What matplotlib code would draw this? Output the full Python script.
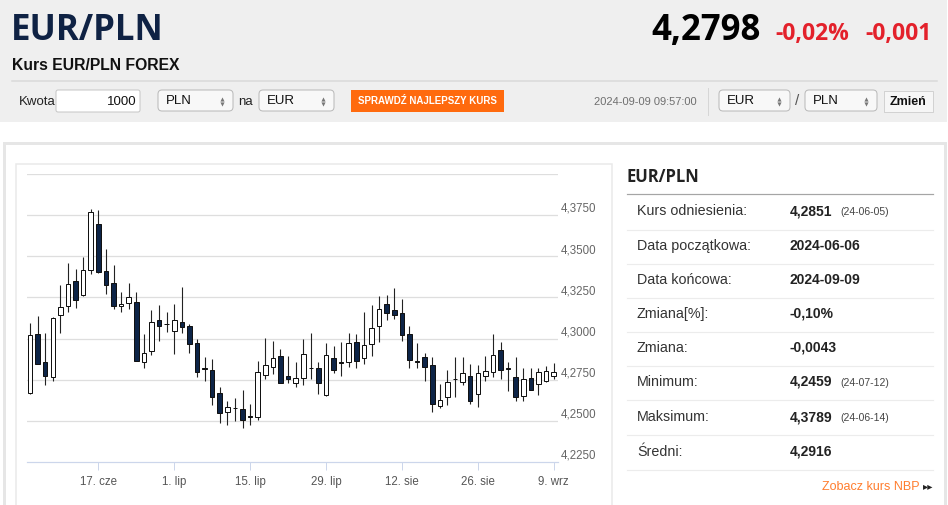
import numpy as np
import pandas as pd
import matplotlib
matplotlib.use('Agg')
import matplotlib.pyplot as plt
from matplotlib.patches import Rectangle, FancyBboxPatch

# daily candles EUR/PLN, business days from 2024-06-04 to 2024-09-09
opens = [4.2668, 4.3028, 4.2859, 4.2764, 4.3144, 4.3197, 4.3347, 4.3264, 4.3414, 4.3695,
         4.3412, 4.3339, 4.3197, 4.3217, 4.3221, 4.2859, 4.2924, 4.3114, 4.3091, 4.3048,
         4.3101, 4.3079, 4.2973, 4.2821, 4.2809, 4.2670, 4.2553, 4.2581, 4.2571, 4.2528,
         4.2526, 4.2778, 4.2825, 4.2894, 4.2772, 4.2733, 4.2760, 4.2823, 4.2819, 4.2656,
         4.2882, 4.2855, 4.2859, 4.2977, 4.2884, 4.2969, 4.3075, 4.3209, 4.3174, 4.3156,
         4.3026, 4.2863, 4.2890, 4.2839, 4.2589, 4.2642, 4.2756, 4.2738, 4.2772, 4.2662,
         4.2772, 4.2794, 4.2931, 4.2821, 4.2768, 4.2652, 4.2760, 4.2723, 4.2744, 4.2772]
highs = [4.3095, 4.3136, 4.3034, 4.3130, 4.3323, 4.3459, 4.3424, 4.3494, 4.3789, 4.3780,
         4.3546, 4.3445, 4.3286, 4.3339, 4.3286, 4.3028, 4.3174, 4.3205, 4.3164, 4.3211,
         4.3313, 4.3089, 4.2998, 4.2890, 4.2874, 4.2703, 4.2618, 4.2638, 4.2687, 4.2601,
         4.2861, 4.3004, 4.2987, 4.2937, 4.2896, 4.2855, 4.2998, 4.3034, 4.2859, 4.2973,
         4.2957, 4.2977, 4.3034, 4.3028, 4.3164, 4.3205, 4.3256, 4.3262, 4.3307, 4.3242,
         4.3075, 4.2973, 4.2912, 4.2886, 4.2723, 4.2809, 4.2886, 4.2890, 4.2845, 4.2839,
         4.2896, 4.3028, 4.2977, 4.2859, 4.2886, 4.2821, 4.2821, 4.2821, 4.2833, 4.2853]
lows = [4.2662, 4.2845, 4.2717, 4.2740, 4.3034, 4.3160, 4.3185, 4.3260, 4.3394, 4.3400,
        4.3272, 4.3177, 4.3160, 4.3177, 4.2862, 4.2819, 4.2902, 4.2983, 4.3042, 4.2906,
        4.3032, 4.2910, 4.2764, 4.2744, 4.2597, 4.2490, 4.2475, 4.2500, 4.2459, 4.2473,
        4.2504, 4.2754, 4.2784, 4.2730, 4.2727, 4.2703, 4.2717, 4.2754, 4.2662, 4.2652,
        4.2790, 4.2770, 4.2829, 4.2819, 4.2845, 4.2892, 4.2977, 4.3114, 4.3120, 4.2987,
        4.2819, 4.2819, 4.2744, 4.2551, 4.2581, 4.2595, 4.2646, 4.2717, 4.2605, 4.2587,
        4.2740, 4.2764, 4.2754, 4.2679, 4.2622, 4.2622, 4.2687, 4.2658, 4.2738, 4.2754]
closes = [4.3022, 4.2847, 4.2770, 4.3128, 4.3193, 4.3333, 4.3237, 4.3418, 4.3770, 4.3404,
          4.3325, 4.3197, 4.3211, 4.3252, 4.2866, 4.2912, 4.3101, 4.3079, 4.3087, 4.3114,
          4.3069, 4.2967, 4.2794, 4.2817, 4.2642, 4.2546, 4.2587, 4.2577, 4.2504, 4.2524,
          4.2794, 4.2839, 4.2882, 4.2733, 4.2752, 4.2758, 4.2908, 4.2819, 4.2729, 4.2902,
          4.2811, 4.2851, 4.2973, 4.2866, 4.2963, 4.3063, 4.3179, 4.3156, 4.3146, 4.3022,
          4.2872, 4.2859, 4.2825, 4.2605, 4.2626, 4.2738, 4.2752, 4.2790, 4.2622, 4.2790,
          4.2801, 4.2902, 4.2809, 4.2817, 4.2646, 4.2754, 4.2689, 4.2798, 4.2805, 4.2798]
dates = pd.bdate_range('2024-06-04', periods=len(opens))

tick_dates = ['2024-06-17', '2024-07-01', '2024-07-15', '2024-07-29',
              '2024-08-12', '2024-08-26', '2024-09-09']
months_pl = {6: 'cze', 7: 'lip', 8: 'sie', 9: 'wrz'}
y_grid = [4.225, 4.25, 4.275, 4.30, 4.325, 4.35, 4.375, 4.40]
y_labels = [4.225, 4.25, 4.275, 4.30, 4.325, 4.35, 4.375]

# right hand table
stat_labels = ['Kurs odniesienia:', 'Data początkowa:', 'Data końcowa:', 'Zmiana[%]:',
               'Zmiana:', 'Minimum:', 'Maksimum:', 'Średni:']
stat_values = ['4,2851', '2024-06-06', '2024-09-09', '-0,10%', '-0,0043', '4,2459', '4,3789', '4,2916']
stat_dates = ['(24-06-05)', '', '', '', '', '(24-07-12)', '(24-06-14)', '']

pair = 'EUR/PLN'
last_rate = '4,2798'
change_pct = '-0,02%'
change_abs = '-0,001'
stamp = '2024-09-09 09:57:00'

W, H = 948, 505
fig = plt.figure(figsize=(W / 100, H / 100), dpi=100)
fig.patch.set_facecolor('white')

# ---- page layer in pixel coordinates ----
pg = fig.add_axes([0, 0, 1, 1])
pg.set_xlim(0, W)
pg.set_ylim(H, 0)
pg.axis('off')

sans = 'Liberation Sans'
osans = 'Open Sans'
px = 0.72  # one pixel in points

pg.add_patch(Rectangle((0, 0), 947, 122, fc='#efefef', ec='none'))
pg.plot([12, 937], [80.5, 80.5], color='#d9d9d9', lw=1.5 * px)
pg.text(11, 40, pair, family=osans, weight='bold', fontsize=25, color='#0f2244', va='baseline')
pg.text(12, 70, 'Kurs EUR/PLN FOREX', family=sans, weight='bold', fontsize=11.3, color='#111111', va='baseline')
pg.text(761, 40, last_rate, family=osans, weight='bold', fontsize=25, color='#000000', va='baseline', ha='right')
pg.text(775, 40, change_pct, family=osans, weight='bold', fontsize=16.5, color='#e3212b', va='baseline')
pg.text(865, 40, change_abs, family=osans, weight='bold', fontsize=16.5, color='#e3212b', va='baseline')


def select_box(x0, x1, label):
    pg.add_patch(FancyBboxPatch((x0, 90), x1 - x0, 21, boxstyle='round,pad=0,rounding_size=4',
                                fc='#f8f8f8', ec='#b9b9b9', lw=px))
    pg.text(x0 + 8, 101, label, family=sans, fontsize=9.5, color='#111111', va='center')
    pg.plot([x1 - 11], [98.5], marker='^', ms=3, color='#777777', mec='none')
    pg.plot([x1 - 11], [103.5], marker='v', ms=3, color='#777777', mec='none')


pg.text(19, 102, 'Kwota', family=sans, fontsize=9.5, color='#222222', va='center')
pg.add_patch(FancyBboxPatch((56, 90), 84, 22, boxstyle='round,pad=0,rounding_size=2',
                            fc='white', ec='#c6c6c6', lw=px))
pg.text(137, 102, '1000', family=sans, fontsize=9.5, color='#111111', va='center', ha='right')
select_box(158, 233, 'PLN')
pg.text(238, 102, 'na', family=sans, fontsize=9.5, color='#222222', va='center')
select_box(259, 334, 'EUR')
pg.add_patch(Rectangle((351, 90), 153, 22, fc='#ff6a0e', ec='none'))
pg.text(427.5, 101.5, 'SPRAWDŹ NAJLEPSZY KURS', family=sans, weight='bold', fontsize=7,
        color='white', ha='center', va='center')

pg.text(697, 102, stamp, family=sans, fontsize=8, color='#6f6f6f', va='center', ha='right')
pg.plot([708, 708], [88, 115], color='#d6d6d6', lw=px)
select_box(719, 790, 'EUR')
pg.text(797.5, 101, '/', family=sans, fontsize=11, color='#555555', va='center', ha='center')
select_box(805, 877, 'PLN')
pg.add_patch(Rectangle((884, 91), 49, 22, fc='#dcdcdc', ec='none'))
pg.add_patch(Rectangle((884, 91), 49, 20.5, fc='#f6f6f6', ec='#d2d2d2', lw=px))
pg.text(908.5, 102, 'Zmień', family=sans, weight='bold', fontsize=9, color='#111111', ha='center', va='center')

# content panels
pg.add_patch(Rectangle((4, 142.5), 941, 380, fc='white', ec='#e6e6e6', lw=3 * px))
pg.add_patch(Rectangle((16.5, 163.5), 595.5, 360, fc='white', ec='#e9e9e9', lw=1.5 * px))

# stats table
pg.text(627, 177, pair, family=osans, weight='bold', fontsize=12, color='#222222', va='center')
pg.plot([627, 933], [193.5, 193.5], color='#a5a5a5', lw=1.2 * px)
row_y = [211, 246, 280, 314, 348, 382, 417, 452]
sep_y = [229.5, 263.5, 297.5, 331.5, 365.5, 400, 435, 469.5]
for i in range(len(stat_labels)):
    pg.text(637, row_y[i], stat_labels[i], family=sans, fontsize=10.3, color='#333333', va='center')
    pg.text(790, row_y[i], stat_values[i], family=sans, weight='bold', fontsize=10, color='#222222', va='center')
    if stat_dates[i]:
        pg.text(840, row_y[i] + 1, stat_dates[i], family=sans, fontsize=7.5, color='#444444', va='center')
    pg.plot([627, 933], [sep_y[i], sep_y[i]], color='#ececec', lw=1.2 * px)
pg.text(920, 487.5, 'Zobacz kurs NBP', family=sans, fontsize=9, color='#ff7d2e', va='center', ha='right')
pg.text(923, 486, '▸▸', family='DejaVu Sans', fontsize=7.5, color='#222222', va='center')

# ---- candlestick chart ----
x0, x1, ytop, ybot = 27, 558, 174, 462
ax = fig.add_axes([x0 / W, 1 - ybot / H, (x1 - x0) / W, (ybot - ytop) / H])
ax.set_facecolor('none')
idx = np.arange(len(opens))
ax.set_xlim(-0.4, len(opens) - 1 + 0.57)
ax.set_ylim(4.225, 4.40)

for v in y_grid[1:]:
    ax.axhline(v, color='#dedede', lw=1.3 * px, zorder=0)
for v in y_labels:
    ax.annotate(('%.4f' % v).replace('.', ','), xy=(1, v), xycoords=('axes fraction', 'data'),
                xytext=(2, 4.5), textcoords='offset points', fontsize=8.3, family=sans,
                color='#666666', va='center')

o = np.array(opens)
c = np.array(closes)
ax.vlines(idx, lows, highs, color='#222222', lw=1.1 * px, zorder=2)
body_lo = np.minimum(o, c)
body_h = np.maximum(np.abs(c - o), 0.0002)
fills = ['white' if cc > oo else '#0d2447' for oo, cc in zip(o, c)]
ax.bar(idx, body_h, bottom=body_lo, width=0.6, color=fills, edgecolor='#111111',
       linewidth=1.0 * px, zorder=3)

tick_pos = [list(dates).index(pd.Timestamp(d)) for d in tick_dates]
tick_lab = ['%d. %s' % (pd.Timestamp(d).day, months_pl[pd.Timestamp(d).month]) for d in tick_dates]
ax.set_xticks(tick_pos)
ax.set_xticklabels(tick_lab, fontsize=8.3, family=sans, color='#555555')
ax.set_yticks([])
ax.tick_params(axis='x', direction='out', length=8 * px, width=px, color='#ccd6eb', pad=4)
for s in ['top', 'left', 'right']:
    ax.spines[s].set_visible(False)
ax.spines['bottom'].set_color('#ccd6eb')
ax.spines['bottom'].set_linewidth(1.2 * px)

fig.savefig('out.png', dpi=100)
